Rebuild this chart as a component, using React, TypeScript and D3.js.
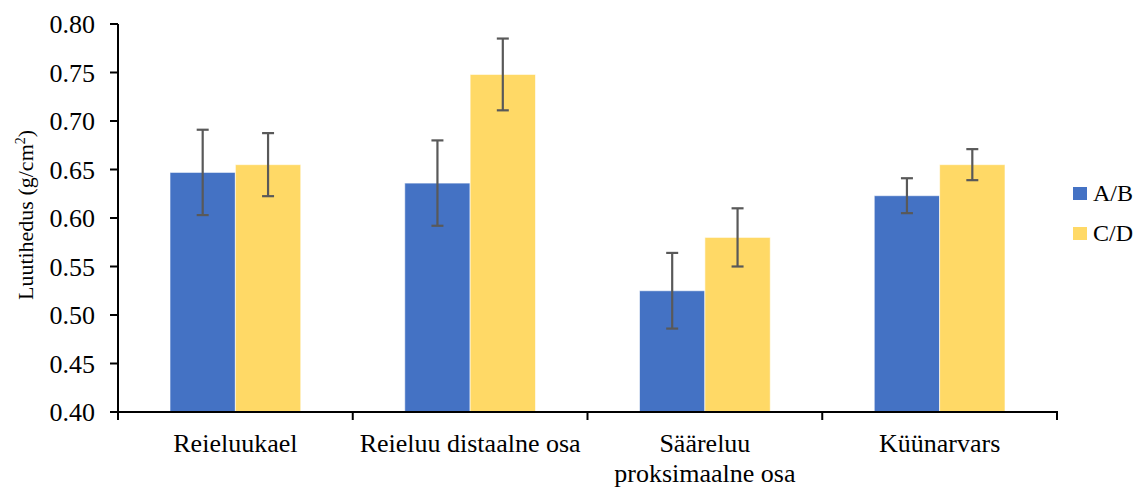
import React from "react";
import * as d3 from "d3";

const categories = ["Reieluukael", "Reieluu distaalne osa", "Sääreluu\nproksimaalne osa", "Küünarvars"];
const seriesNames = ["A/B", "C/D"];
const valuesAB = [0.647, 0.636, 0.525, 0.623];
const errorsAB = [0.044, 0.044, 0.039, 0.018];
const valuesCD = [0.655, 0.748, 0.580, 0.655];
const errorsCD = [0.0325, 0.037, 0.030, 0.016];
const yTicks = [0.4, 0.45, 0.5, 0.55, 0.6, 0.65, 0.7, 0.75, 0.8];
const colors = ["#4472C4", "#FFD966"];

const TF = { fontFamily: "Liberation Serif" };

export default function App() {
  const W = 1138, H = 487;
  const left = 118, right = 1057, top = 24, bottom = 412;
  const x0 = d3.scaleBand().domain(categories).range([left, right]).paddingInner(0).paddingOuter(0);
  const bw = x0.bandwidth();
  const groupPad = 52 / bw;
  const x1 = d3.scaleBand().domain(seriesNames).range([bw * groupPad, bw * (1 - groupPad)]).padding(0);
  const y = d3.scaleLinear().domain([0.4, 0.8]).range([bottom, top]);
  const series = [
    { name: seriesNames[0], vals: valuesAB, errs: errorsAB, color: colors[0] },
    { name: seriesNames[1], vals: valuesCD, errs: errorsCD, color: colors[1] },
  ];
  const boundaries = categories.map((c) => x0(c)!).concat([right]);
  return (
    <svg width={W} height={H} style={{ position: "absolute", left: 0, top: 0 }}>
      <rect x={0} y={0} width={W} height={H} fill="#fff" />
      {series.map((s) =>
        categories.map((c, i) => {
          const bx = x0(c)! + x1(s.name)!;
          const w = x1.bandwidth();
          return (
            <rect key={s.name + i} x={bx} y={y(s.vals[i])} width={w} height={bottom - y(s.vals[i])}
              fill={s.color} stroke="#fff" strokeOpacity={0.6} strokeWidth={1} />
          );
        })
      )}
      {series.map((s) =>
        categories.map((c, i) => {
          const cx = x0(c)! + x1(s.name)! + x1.bandwidth() / 2;
          const y1 = y(s.vals[i] + s.errs[i]);
          const y2 = y(s.vals[i] - s.errs[i]);
          return (
            <g key={"e" + s.name + i} stroke="#595959" strokeWidth={2.2}>
              <line x1={cx} x2={cx} y1={y1} y2={y2} />
              <line x1={cx - 6} x2={cx + 6} y1={y1} y2={y1} />
              <line x1={cx - 6} x2={cx + 6} y1={y2} y2={y2} />
            </g>
          );
        })
      )}
      {/* y axis */}
      <line x1={left} x2={left} y1={top} y2={bottom} stroke="#000" strokeWidth={2} />
      {yTicks.map((t) => (
        <g key={t}>
          <line x1={left - 8} x2={left} y1={y(t)} y2={y(t)} stroke="#000" strokeWidth={2} />
          <text x={95} y={y(t)} dy="0.36em" textAnchor="end" fontSize={26} fill="#000" style={TF}>{t.toFixed(2)}</text>
        </g>
      ))}
      {/* x axis */}
      <line x1={left - 1} x2={right + 1} y1={bottom} y2={bottom} stroke="#000" strokeWidth={2} />
      {boundaries.map((b, i) => (
        <line key={i} x1={b} x2={b} y1={bottom} y2={bottom + 8} stroke="#000" strokeWidth={2} />
      ))}
      {categories.map((c) => {
        const lines = c.split("\n");
        const cx = x0(c)! + bw / 2;
        return (
          <text key={c} x={cx} textAnchor="middle" fontSize={26} fill="#000" style={TF}>
            {lines.map((l, k) => (
              <tspan key={k} x={cx} y={452 + k * 30}>{l}</tspan>
            ))}
          </text>
        );
      })}
      {/* y title */}
      <text transform={`translate(33,215) rotate(-90)`} textAnchor="middle" fontSize={22} fill="#000" style={TF}>
        Luutihedus (g/cm<tspan dy={-8} fontSize={14}>2</tspan><tspan dy={8}>)</tspan>
      </text>
      {/* legend */}
      {series.map((s, i) => (
        <g key={"l" + s.name} transform={`translate(1073,${187 + i * 40})`}>
          <rect x={0} y={0} width={14} height={13} fill={s.color} />
          <text x={20} y={14} fontSize={24} fill="#000" style={TF}>{s.name}</text>
        </g>
      ))}
    </svg>
  );
}
